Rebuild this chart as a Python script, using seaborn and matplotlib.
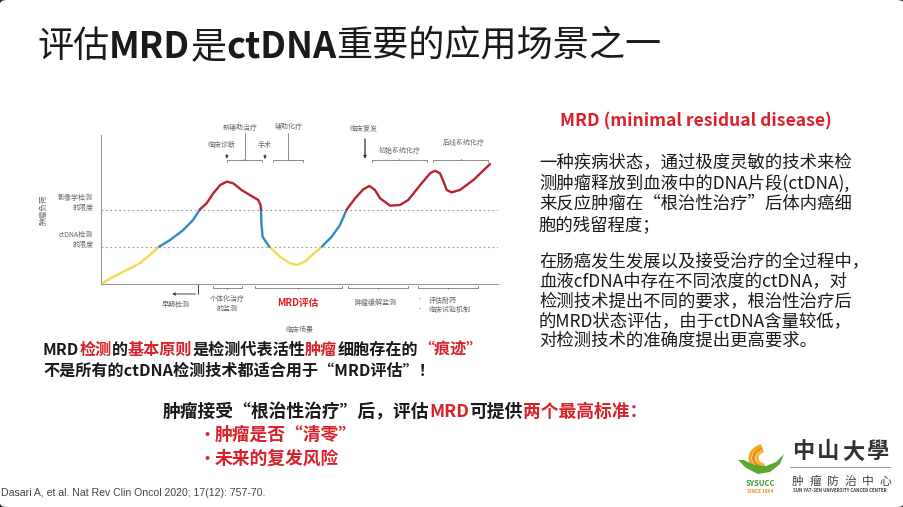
import matplotlib
matplotlib.use('Agg')
import matplotlib.pyplot as plt
import seaborn as sns
import pandas as pd
from matplotlib.patches import FancyBboxPatch, Polygon, Arc

# tumour burden curve (x: time, y: burden, both 0-100)
curve_x = [0, 3.1, 6.5, 9.8, 12.3, 14.6, 17.4, 20.7, 23.2, 24.9,
           26.6, 28.3, 30.0, 31.7, 33.3, 35.4, 37.5, 39.6, 40.2, 40.3,
           40.4, 40.7, 42.4, 45.1, 47.6, 49.3, 51.4, 52.6, 55.6, 58.1,
           60.2, 61.9, 64.0, 66.1, 67.6, 69.0, 70.3, 72.8, 75.3, 77.4,
           80.4, 82.9, 84.1, 85.4, 86.1, 87.1, 88.3, 90.4, 93.8, 98.0]
curve_y = [0, 4.9, 9.4, 13.9, 19.5, 25, 29.5, 36.2, 43.0, 50,
           54.2, 60.9, 66.4, 68.7, 67.6, 63.1, 59.7, 56.4, 53.0, 50,
           40.7, 31.7, 25, 18.3, 13.9, 12.8, 15.0, 18.1, 25, 31.7,
           39.6, 50, 57.5, 63.6, 65.8, 63.1, 57.5, 52.6, 53.0, 56.4,
           66.4, 74.3, 76.0, 74.3, 69.8, 63.1, 61.5, 63.1, 69.8, 80.5]

ctdna_limit = 25
imaging_limit = 50
threshold_labels = ['ctDNA检测\n的限度', '影像学检测\n的限度']

top_labels = ['新辅助治疗', '临床诊断', '手术', '辅助化疗', '临床复发', '初始系统化疗', '后线系统化疗']
bottom_labels = ['早期检测', '个体化治疗\n的监测', 'MRD评估', '肿瘤缓解监测']
bottom_bullets = ['评估耐药', '临床试验机制']

title_parts = [('评估', 'normal'), ('MRD', 'bold'), ('是', 'normal'), ('ctDNA', 'bold'),
               ('重要的应用场景之一', 'normal')]
para1 = ['一种疾病状态，通过极度灵敏的技术来检',
         '测肿瘤释放到血液中的DNA片段(ctDNA),',
         '来反应肿瘤在“根治性治疗”后体内癌细',
         '胞的残留程度；']
para2 = ['在肠癌发生发展以及接受治疗的全过程中，',
         '血液cfDNA中存在不同浓度的ctDNA，对',
         '检测技术提出不同的要求，根治性治疗后',
         '的MRD状态评估，由于ctDNA含量较低，',
         '对检测技术的准确度提出更高要求。']

RED = '#d9232a'
K = '#1a1a1a'
G = '#666666'

sns.set_theme(style='white')
plt.rcParams['font.family'] = ['Noto Sans CJK SC', 'DejaVu Sans']

W, H = 904, 507
fig = plt.figure(figsize=(W / 100, H / 100), dpi=100)
fig.patch.set_facecolor('#1e2236')
fig.patches.append(FancyBboxPatch((0, 0), 1, 1,
                                  boxstyle='round,pad=0,rounding_size=0.008',
                                  transform=fig.transFigure, facecolor='white',
                                  edgecolor='none', zorder=-5))


def put(px, py, s, **kw):
    return fig.text(px / W, 1 - py / H, s, **kw)


def rich(px, py, parts, size):
    # parts: (text, colour, weight) placed one after another
    r = fig.canvas.get_renderer()
    x = px
    for s, c, w in parts:
        t = put(x, py, s, fontsize=size, color=c, fontweight=w, va='center', ha='left')
        x += t.get_window_extent(r).width


# ---- chart ----
ax = fig.add_axes([101 / W, 1 - 284 / H, 397 / W, 149 / H])
ax.set_xlim(0, 100)
ax.set_ylim(0, 100)
ax.set_facecolor('none')

# split the curve into coloured runs by detection band
rows = []
seg, prev = 0, None
for i in range(len(curve_x) - 1):
    mid = (curve_y[i] + curve_y[i + 1]) / 2
    band = 'low' if mid < ctdna_limit else ('mid' if mid < imaging_limit else 'high')
    if band != prev:
        seg += 1
        rows.append((seg, band, curve_x[i], curve_y[i]))
    rows.append((seg, band, curve_x[i + 1], curve_y[i + 1]))
    prev = band
df = pd.DataFrame(rows, columns=['seg', 'band', 'x', 'y'])

sns.lineplot(data=df, x='x', y='y', hue='band', units='seg', estimator=None, sort=False,
             palette={'low': '#f0dc4c', 'mid': '#2f8bc4', 'high': '#b8232f'},
             linewidth=1.7, legend=False, ax=ax)

for lim in [ctdna_limit, imaging_limit]:
    ax.axhline(lim, color='#999999', linestyle=(0, (1.5, 2.5)), lw=0.8, zorder=0)

sns.despine(ax=ax)
for sp in ['left', 'bottom']:
    ax.spines[sp].set_color('#999999')
    ax.spines[sp].set_linewidth(0.8)
ax.set_xticks([])
ax.set_yticks([])
ax.set_xlabel('临床场景', fontsize=5, color=G, labelpad=30)
ax.set_ylabel('肿瘤负荷', fontsize=5.5, color=G, labelpad=38)

fs = 5
ax.text(-2, 29.5, threshold_labels[0], fontsize=fs, color=G, ha='right', va='center',
        linespacing=1.3)
ax.text(-2, 54.2, threshold_labels[1], fontsize=fs, color=G, ha='right', va='center',
        linespacing=1.3)

LC = '#777777'


def bracket(x0, x1, y, tick):
    ax.plot([x0, x0, x1, x1], [y + tick, y, y, y + tick], color=LC, lw=0.6, clip_on=False)
    xm = (x0 + x1) / 2
    ax.plot([xm, xm], [y, y - tick * 0.6], color=LC, lw=0.6, clip_on=False)


def arrow(x, y0, y1, x1=None, color='#444444', lw=0.7):
    ax.annotate('', xy=(x if x1 is None else x1, y1), xytext=(x, y0),
                arrowprops=dict(arrowstyle='-|>', color=color, lw=lw, mutation_scale=4),
                annotation_clip=False)


# top annotations
ax.text(35.0, 104.7, top_labels[0], fontsize=fs, color=G, ha='center', va='center')
ax.plot([36.3, 36.3], [101.3, 83.2], color=LC, lw=0.6, clip_on=False)
ax.text(30.2, 93.3, top_labels[1], fontsize=fs, color=G, ha='center', va='center')
arrow(31.7, 88.8, 82.1)
bracket(31.7, 40.5, 83.2, -1.2)
ax.text(41.3, 93.3, top_labels[2], fontsize=fs, color=G, ha='center', va='center')
arrow(41.3, 88.6, 81.9)
ax.text(47.2, 105.2, top_labels[3], fontsize=fs, color=G, ha='center', va='center')
ax.plot([47.0, 47.0], [101.3, 83.2], color=LC, lw=0.6, clip_on=False)
bracket(43.2, 50.8, 83.0, -1.2)
ax.text(66.1, 103.8, top_labels[4], fontsize=fs, color=G, ha='center', va='center')
arrow(66.5, 99.3, 82.1, color='#333333', lw=0.9)
ax.text(75.3, 89.5, top_labels[5], fontsize=fs, color=G, ha='center', va='center')
bracket(68.2, 82.0, 83.0, -1.2)
ax.text(91.3, 94.4, top_labels[6], fontsize=fs, color=G, ha='center', va='center')
bracket(83.7, 97.6, 83.0, -1.2)

# bottom annotations
ax.plot([24.5, 24.5], [0, -6.7], color='#444444', lw=0.7, clip_on=False)
arrow(24.5, -6.7, -6.7, x1=17.2)
ax.text(18.9, -14.1, bottom_labels[0], fontsize=fs, color=G, ha='center', va='center')
bracket(28.3, 35.4, -2.4, 1.2)
ax.text(31.8, -13.4, bottom_labels[1], fontsize=fs, color=G, ha='center', va='center',
        linespacing=1.3)
bracket(38.8, 60.6, -2.4, 1.2)
ax.text(49.7, -13.0, bottom_labels[2], fontsize=7, color='#e02020', fontweight='bold',
        ha='center', va='center')
bracket(62.3, 77.4, -2.4, 1.2)
ax.text(69.3, -13.0, bottom_labels[3], fontsize=fs, color=G, ha='center', va='center')
bracket(79.9, 95.0, -2.4, 1.2)
for yb, lab in zip([-11.2, -17.4], bottom_bullets):
    ax.text(79.5, yb, '•', fontsize=4, color=G, ha='left', va='center')
    ax.text(82.5, yb, lab, fontsize=fs, color=G, ha='left', va='center')

# ---- slide text ----
rich(37, 47, [(s, K, w) for s, w in title_parts], 26)

put(696, 121, 'MRD (minimal residual disease)', fontsize=12.6, color=RED, fontweight='bold',
    ha='center', va='center')
for yy, line in zip([161.7, 183.0, 204.0, 225.0], para1):
    put(539, yy, line, fontsize=12.5, color=K, ha='left', va='center')
for yy, line in zip([261.7, 281.5, 301.5, 321.3, 340.5], para2):
    put(539, yy, line, fontsize=12.5, color=K, ha='left', va='center')

rich(43, 350, [('MRD', K, 'bold'), ('检测', RED, 'bold'), ('的', K, 'bold'),
               ('基本原则', RED, 'bold'), ('是检测代表活性', K, 'bold'),
               ('肿瘤', RED, 'bold'), ('细胞存在的', K, 'bold'), ('“痕迹”', RED, 'bold')], 11.6)
rich(43, 371, [('不是所有的ctDNA检测技术都适合用于“MRD评估”！', K, 'bold')], 11.6)

rich(163, 412, [('肿瘤接受“根治性治疗”后，评估', K, 'bold'), ('MRD', RED, 'bold'),
                ('可提供', K, 'bold'), ('两个最高标准：', RED, 'bold')], 12.8)
put(199, 435, '•', fontsize=11, color=RED, ha='left', va='center', fontweight='bold')
put(215, 435, '肿瘤是否“清零”', fontsize=12.8, color=RED, ha='left', va='center', fontweight='bold')
put(199, 459, '•', fontsize=11, color=RED, ha='left', va='center', fontweight='bold')
put(215, 459, '未来的复发风险', fontsize=12.8, color=RED, ha='left', va='center', fontweight='bold')

put(1, 493, 'Dasari A, et al. Nat Rev Clin Oncol 2020; 17(12): 757-70.', fontsize=7.6,
    color='#444444', family='Liberation Sans', ha='left', va='center')

# ---- logo ----
lg = fig.add_axes([736 / W, 1 - 480 / H, 50 / W, 40 / H])
lg.set_xlim(0, 50)
lg.set_ylim(0, 40)
lg.axis('off')
for r, c in zip([16, 12.5, 9], ['#f5a623', '#f08c1a', '#f5b82e']):
    lg.add_patch(Arc((30, 22), 2 * r, 1.6 * r, theta1=110, theta2=260, color=c, lw=2.2))
lg.add_patch(Polygon([(2, 20), (10, 12), (22, 6), (34, 8), (44, 16), (48, 26),
                      (40, 18), (30, 14), (18, 15), (8, 20)],
                     closed=True, facecolor='#5aa832', edgecolor='none'))
put(760, 484, 'SYSUCC', fontsize=5.5, color='#3f9b3a', fontweight='bold', ha='center', va='center')
put(760, 491.5, 'SINCE 1964', fontsize=3.4, color='#e8901c', fontweight='bold', ha='center',
    va='center')
for i, ch in enumerate('中山大學'):
    put(803 + i * 25, 452, ch, fontsize=16, color='#333333', fontweight='bold', ha='center',
        va='center')
fig.add_artist(plt.Line2D([790 / W, 890 / W], [1 - 467 / H, 1 - 467 / H],
                          color='#888888', lw=0.6))
for i, ch in enumerate('肿瘤防治中心'):
    put(798 + i * 17.5, 481, ch, fontsize=8.5, color='#444444', ha='center', va='center')
put(840, 491, 'SUN YAT-SEN UNIVERSITY CANCER CENTER', fontsize=3.2, color='#444444',
    fontweight='bold', ha='center', va='center')

fig.savefig('out.png', dpi=100, facecolor=fig.get_facecolor())
